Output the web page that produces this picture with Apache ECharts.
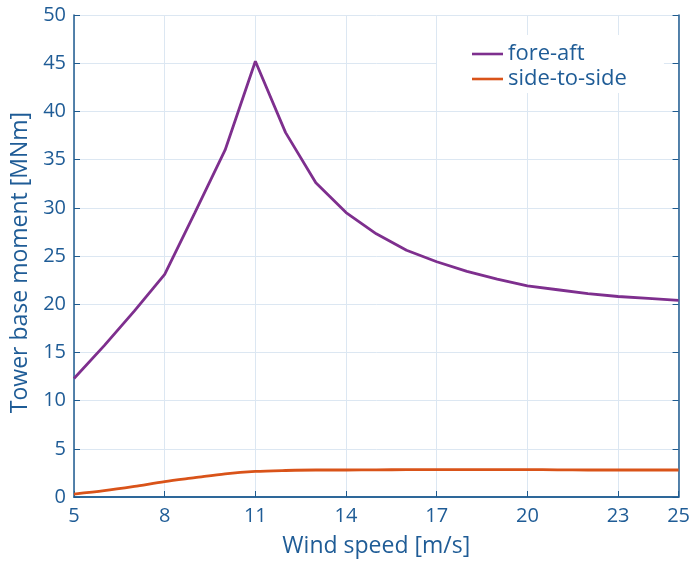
<!DOCTYPE html>
<html><head><meta charset="utf-8">
<script src="https://cdn.jsdelivr.net/npm/echarts@6/dist/echarts.min.js"></script>
<style>html,body{margin:0;padding:0;background:#fff}#c{width:693px;height:563px}</style>
</head><body><div id="c"></div>
<script>
const windSpeed = [5,6,7,8,9,10,11,12,13,14,15,16,17,18,19,20,21,22,23,24,25];
const foreAft = [12.3,15.7,19.3,23.1,29.5,36.0,45.2,37.8,32.6,29.5,27.3,25.6,24.4,23.4,22.6,21.9,21.5,21.1,20.8,20.6,20.4];
const sideToSide = [0.3,0.65,1.1,1.6,2.0,2.4,2.65,2.75,2.8,2.8,2.82,2.83,2.83,2.84,2.85,2.85,2.82,2.8,2.8,2.8,2.8];
const xTicks = [5,8,11,14,17,20,23,25];

const txt = '#1F5C96';
const font = 'Open Sans';
const chart = echarts.init(document.getElementById('c'));
const pairs = a => windSpeed.map((x,i)=>[x,a[i]]);
chart.setOption({
  animation:false,
  textStyle:{fontFamily:font},
  grid:{left:74,right:14,top:15,bottom:65},
  legend:{
    left:437, top:35, orient:'vertical',
    backgroundColor:'#fff',
    padding:[8,37,3,35],
    itemWidth:31, itemHeight:14, itemGap:3,
    icon:'path://M0,6 L31,6 L31,8.6 L0,8.6 Z',
    textStyle:{color:txt,fontSize:22,fontFamily:font},
    data:['fore-aft','side-to-side']
  },
  xAxis:[{
    type:'value', min:5, max:25,
    name:'Wind speed [m/s]', nameLocation:'middle', nameGap:38,
    nameTextStyle:{color:txt,fontSize:23},
    axisLine:{lineStyle:{color:'#5F91BE',width:2}},
    axisTick:{inside:true,length:6,customValues:xTicks,lineStyle:{color:'#1F5B8F'}},
    axisLabel:{customValues:xTicks,color:txt,fontSize:20,margin:9},
    splitLine:{show:true,lineStyle:{color:'#DCE7F2',width:1}}
  },{
    type:'value', min:5, max:25, position:'top',
    axisLine:{show:true,lineStyle:{color:'#1F5B8F',width:1.5}},
    axisTick:{show:false}, axisLabel:{show:false}, splitLine:{show:false}
  }],
  yAxis:[{
    type:'value', min:0, max:50, interval:5,
    name:'Tower base moment [MNm]', nameLocation:'middle', nameGap:37,
    nameTextStyle:{color:txt,fontSize:23,padding:[0,13,0,0]},
    axisLine:{show:true,lineStyle:{color:'#1F5B8F',width:1.5}},
    axisTick:{show:true,inside:true,length:6,lineStyle:{color:'#1F5B8F'}},
    axisLabel:{color:txt,fontSize:20,margin:8},
    splitLine:{show:true,lineStyle:{color:'#DCE7F2',width:1}}
  },{
    type:'value', min:0, max:50, interval:5, position:'right',
    axisLine:{show:true,lineStyle:{color:'#1F5B8F',width:1.5}},
    axisTick:{show:true,inside:true,length:6,lineStyle:{color:'#1F5B8F'}},
    axisLabel:{show:false}, splitLine:{show:false}
  }],
  series:[{
    name:'fore-aft', type:'line', data:pairs(foreAft), showSymbol:false,
    color:'#7E2F8E', lineStyle:{width:2.8,color:'#7E2F8E'}, z:3
  },{
    name:'side-to-side', type:'line', data:pairs(sideToSide), showSymbol:false, smooth:0.3,
    color:'#D95319', lineStyle:{width:2.8,color:'#D95319'}, z:3
  }]
});
</script></body></html>
